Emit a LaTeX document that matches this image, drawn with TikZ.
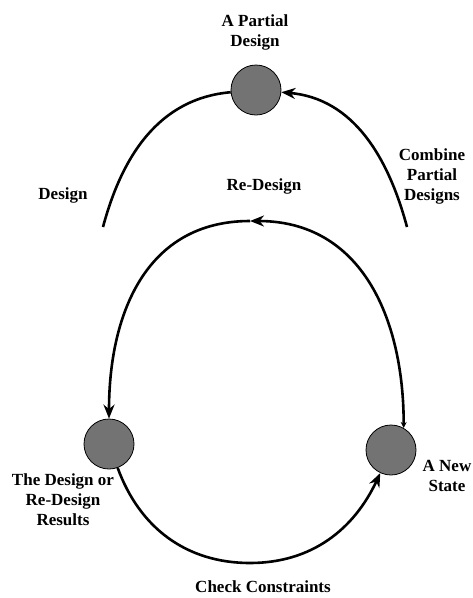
\documentclass[tikz,border=0pt]{standalone}
\usepackage{fontspec}
\setmainfont{Liberation Serif}
\usetikzlibrary{arrows.meta, positioning}
\tikzset{
    spot/.style={
        circle,
        draw=black,
        thick,
        fill=black!55,
        minimum size=50pt,
        inner sep=0pt
    },
    tag/.style={
        font=\bfseries\fontsize{17}{20}\selectfont,
        align=center,
        inner sep=0pt
    },
    flow/.style={
        line width=2.6pt
    },
    bigtip/.style={
        -{Stealth[length=14pt,width=11pt]}
    }
}

\begin{document}
\begin{tikzpicture}[x=1pt, y=1pt]
            \useasboundingbox (0,0) rectangle (473,-598);

            % States
            \node (partial) [spot] at (256,-90) {};
            \node (results) [spot] at (109,-444) {};
            \node (newstate) [spot] at (391,-450) {};

            % Free ends
            \coordinate (designEnd) at (103,-227);
            \coordinate (combineEnd) at (407,-227);
            \coordinate (loopTop) at (250,-221);
            \coordinate (loopBottom) at (250,-563);

            % Labels
            \node (partialTxt) [tag] at (255,-32) {A Partial\\Design};
            \node (designTxt) [tag] at (63,-195) {Design};
            \node (redesignTxt) [tag] at (264,-186) {Re-Design};
            \node (combineTxt) [tag] at (432,-176) {Combine\\Partial\\Designs};
            \node (resultsTxt) [tag] at (63,-500) {The Design or\\Re-Design\\Results};
            \node (stateTxt) [tag] at (447,-476) {A New\\State};
            \node (checkTxt) [tag] at (263,-587) {Check Constraints};

            % Edges
            \path [flow]
                % upper arch
                (designEnd) edge [out=75, in=185] (partial)
                (combineEnd) edge [bigtip, out=105, in=-5] (partial)

                % lower loop
                (newstate.60) edge [{Stealth[length=6pt,width=6pt]}-{Stealth[length=14pt,width=11pt]},
                    out=90, in=0, looseness=1.1] (loopTop)
                (loopTop) edge [bigtip, out=180, in=90, looseness=1.1] (results)
            ;
            \draw [flow, bigtip] (results) to [out=-70, in=180] (loopBottom)
                to [out=0, in=-115] (newstate);
\end{tikzpicture}
\end{document}
